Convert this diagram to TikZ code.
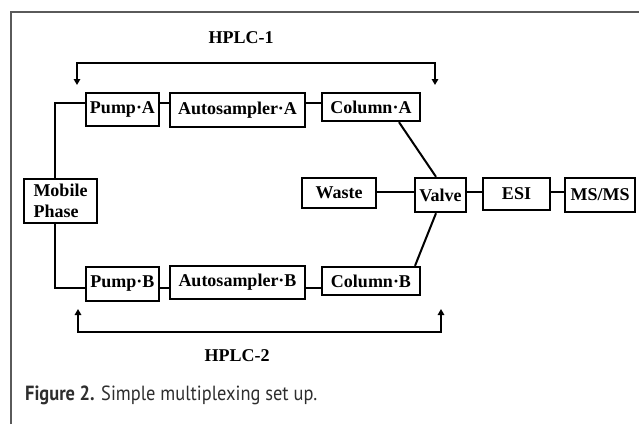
\documentclass[tikz,border=0pt]{standalone}
\usepackage{fontspec}
\setmainfont{Liberation Serif}
\newfontfamily\capfont{PT Sans}
\usetikzlibrary{arrows.meta}
\definecolor{framegray}{HTML}{5A5A5A}
\definecolor{capgray}{HTML}{2E2E2E}
\begin{document}
\begin{tikzpicture}[x=1pt,y=-1pt,
  box/.style={draw,line width=2.4pt,inner sep=0pt,fill=white,
    font=\bfseries\fontsize{18}{21}\selectfont},
  conn/.style={line width=2pt},
  brk/.style={line width=2pt,{Triangle[length=6pt,width=6.5pt]}-{Triangle[length=6pt,width=6.5pt]}},
  lbl/.style={font=\bfseries\fontsize{18}{21}\selectfont,inner sep=0pt}]
\fill[white] (0,0) rectangle (639,424);
\useasboundingbox (0,0) rectangle (639,424);
% frame
\draw[framegray,line width=2pt] (11,424) -- (11,12) -- (639,12);
% rows
\coordinate (rowA) at (0,103);
\coordinate (rowM) at (0,192);
\coordinate (rowB) at (0,288);
% boxes
\node[box,minimum width=73pt,minimum height=33pt] (pa) at (122.5,109.5) {Pump·A};
\node[box,minimum width=135pt,minimum height=34pt] (asa) at (237.5,110) {Autosampler·A};
\node[box,minimum width=98pt,minimum height=28pt] (ca) at (371,107) {Column·A};
\node[box,minimum width=73pt,minimum height=44pt,align=left] (mp) at (60.5,201) {Mobile\\Phase};
\node[box,minimum width=74pt,minimum height=30pt] (waste) at (339,193) {Waste};
\node[box,minimum width=51pt,minimum height=34pt] (valve) at (440.5,195) {Valve};
\node[box,minimum width=67pt,minimum height=32pt] (esi) at (516.5,194) {ESI};
\node[box,minimum width=70pt,minimum height=34pt] (msms) at (600,195) {MS/MS};
\node[box,minimum width=73pt,minimum height=34pt] (pb) at (122.5,284) {Pump·B};
\node[box,minimum width=135pt,minimum height=33pt] (asb) at (237.5,282.5) {Autosampler·B};
\node[box,minimum width=98pt,minimum height=28pt] (cb) at (371,281) {Column·B};
% connectors
\draw[conn] (mp.north -| 55,0) |- (pa.west |- rowA);
\draw[conn] (pa.east |- rowA) -- (asa.west |- rowA);
\draw[conn] (asa.east |- rowA) -- (ca.west |- rowA);
\draw[conn] (mp.south -| 55,0) |- (pb.west |- rowB);
\draw[conn] (pb.east |- rowB) -- (asb.west |- rowB);
\draw[conn] (asb.east |- rowB) -- (cb.west |- rowB);
\draw[conn] (waste.east |- rowM) -- (valve.west |- rowM);
\draw[conn] (valve.east |- rowM) -- (esi.west |- rowM);
\draw[conn] (esi.east |- rowM) -- (msms.west |- rowM);
\draw[conn] (ca.south -| 399,0) -- (valve.north -| 436,0);
\draw[conn] (valve.south -| 436,0) -- (cb.north -| 415,0);
% brackets
\coordinate (h1l) at (77,85);
\coordinate (h1m) at (256,63);
\coordinate (h1r) at (435,85);
\draw[brk] (h1l) |- (h1m) -| (h1r);
\coordinate (h2l) at (78,309);
\coordinate (h2m) at (260,332);
\coordinate (h2r) at (441,309);
\draw[brk] (h2l) |- (h2m) -| (h2r);
\node[lbl] (hplc1) at (241,38) {HPLC-1};
\node[lbl] (hplc2) at (237,356) {HPLC-2};
% caption
\node[anchor=base west,inner sep=0pt,text=capgray] (cap) at (25,400)
  {\resizebox{292pt}{\height}{\capfont\fontsize{20.5}{22}\selectfont\textbf{Figure 2.} Simple multiplexing set up.}};
\end{tikzpicture}
\end{document}
